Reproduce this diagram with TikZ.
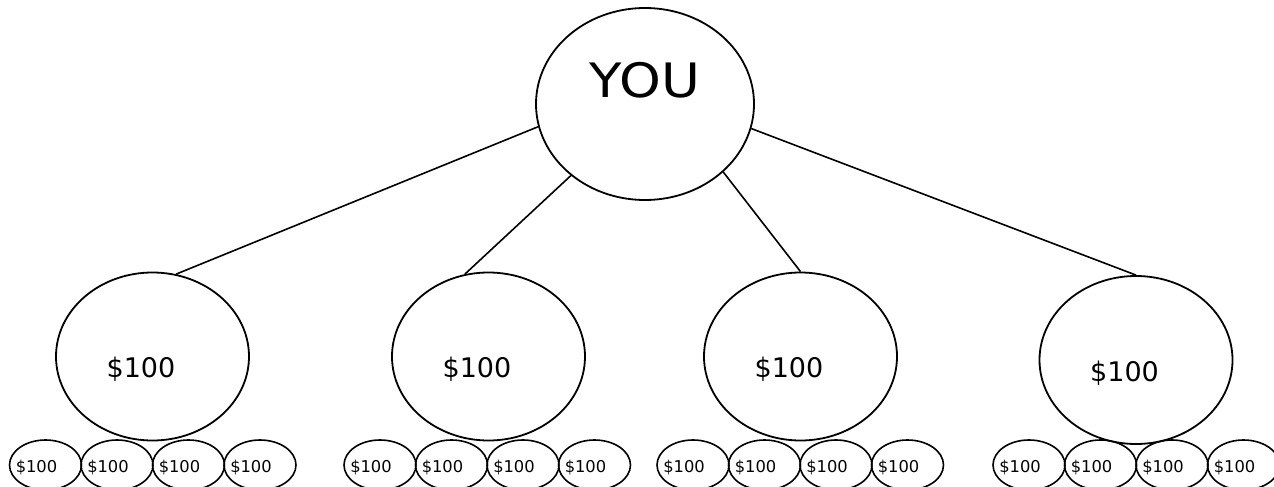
\documentclass[tikz,border=0pt]{standalone}
\usepackage{fontspec}
\setmainfont{DejaVu Sans}
\newfontfamily\youfont[FakeStretch=1.12]{DejaVu Sans}
\usetikzlibrary{shapes.geometric,positioning}
\tikzset{
    root/.style = {draw, ellipse, line width=1.8pt,
        minimum width=218pt, minimum height=192pt, inner sep=0pt},
    share/.style = {draw, ellipse, line width=1.8pt,
        minimum width=193pt, minimum height=168pt, inner sep=0pt},
    coin/.style = {draw, ellipse, line width=1.6pt,
        minimum width=72pt, minimum height=50pt, inner sep=0pt},
    link/.style = {draw, line width=1.6pt},
    youtext/.style = {font=\youfont\fontsize{47.4}{56}\selectfont, yshift=24pt},
    bigamount/.style = {font=\fontsize{27}{32}\selectfont, xshift=-11.5pt, yshift=-13pt},
    smallamount/.style = {font=\fontsize{16.3}{19}\selectfont, xshift=-9pt, yshift=-2.5pt}
}

\begin{document}
\begin{tikzpicture}[x=1pt, y=-1pt]
        \useasboundingbox (0,0) rectangle (1274,487);
        \node [root, label={[youtext]center:YOU}] (you) at (645,104) {};
        % the four shares
        \foreach \i/\px/\py in {1/152.5/356.5, 2/488.5/356.5, 3/800.5/356.5, 4/1136/360}{
            \node [share, label={[bigamount]center:\$100}] (share\i) at (\px,\py) {};
        }
        % four coins under every share
        \foreach \i/\px in {1/45.5, 2/380, 3/693, 4/1029}{
            \node [coin, label={[smallamount]center:\$100}] (coin\i1) at (\px,465) {};
            \foreach \j [evaluate=\j as \prev using int(\j-1)] in {2,3,4}{
                \node [coin, right of=coin\i\prev, node distance=71.5pt,
                    label={[smallamount]center:\$100}] (coin\i\j) {};
            }
        }
        \draw [link] (you.192.5) -- (share1.74);
        \draw [link] (you.224) -- (share2.106);
        \draw [link] (you.319) -- (share3.north);
        \draw [link] (you.347.5) -- (share4.north);
\end{tikzpicture}
\end{document}
